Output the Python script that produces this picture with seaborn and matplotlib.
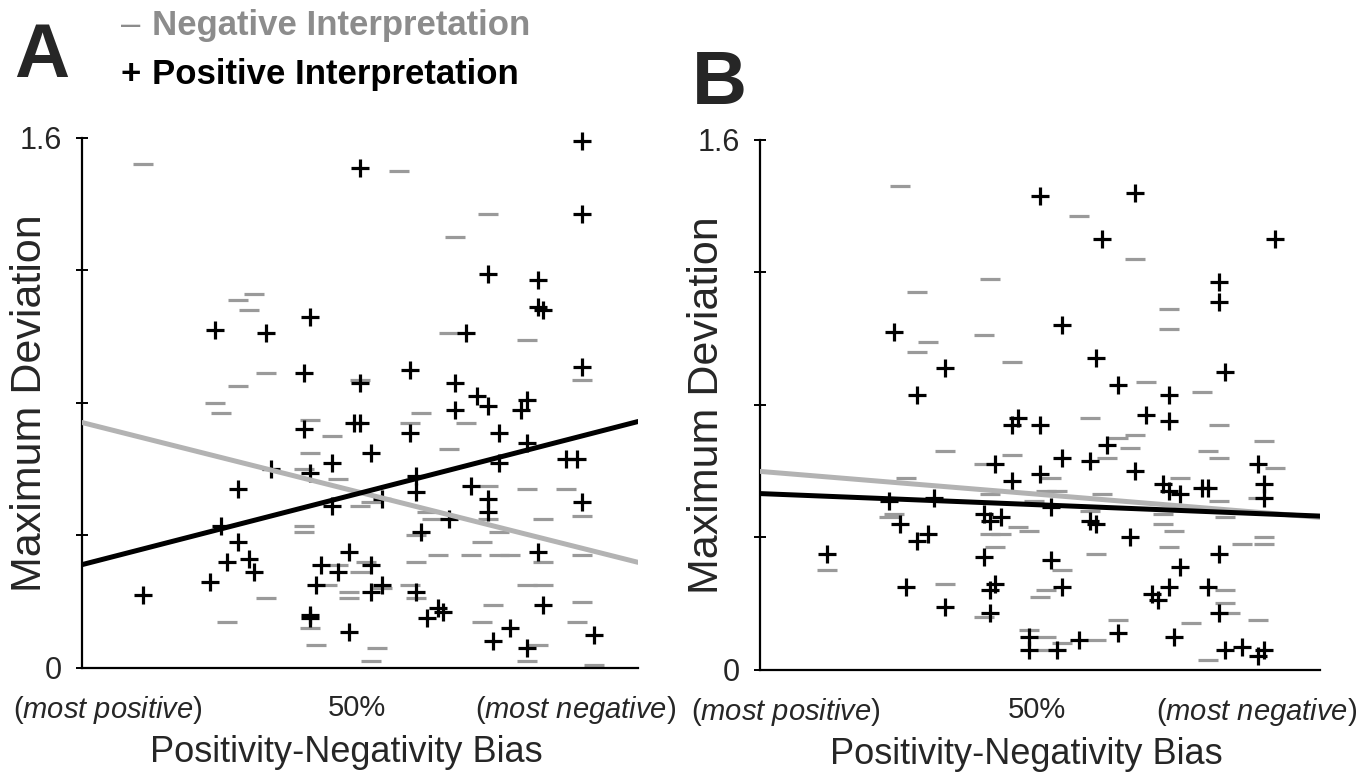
import numpy as np
import pandas as pd
import matplotlib
matplotlib.use("Agg")
import matplotlib.pyplot as plt
import seaborn as sns

# bias runs 0 (most positive) .. 1 (most negative), deviation in the plot units
# panel A
a_neg_x = [0.11, 0.31, 0.28, 0.30, 0.33, 0.28, 0.24, 0.25, 0.41, 0.50,
           0.57, 0.73, 0.67, 0.66, 0.80, 0.90, 0.61, 0.59, 0.69, 0.45,
           0.41, 0.40, 0.46, 0.50, 0.40, 0.40, 0.46, 0.50, 0.44, 0.48,
           0.48, 0.33, 0.26, 0.41, 0.42, 0.53, 0.52, 0.51, 0.66, 0.73,
           0.80, 0.87, 0.90, 0.83, 0.62, 0.63, 0.73, 0.75, 0.60, 0.72,
           0.64, 0.70, 0.75, 0.77, 0.83, 0.60, 0.90, 0.59, 0.80, 0.83,
           0.60, 0.74, 0.90, 0.72, 0.89, 0.82, 0.80, 0.92, 0.54, 0.52]
a_neg_y = [1.52, 1.13, 1.11, 1.08, 0.89, 0.85, 0.80, 0.77, 0.75, 0.87,
           1.50, 1.37, 1.30, 1.01, 0.99, 0.87, 0.77, 0.74, 0.74, 0.70,
           0.65, 0.60, 0.57, 0.49, 0.43, 0.41, 0.31, 0.29, 0.25, 0.23,
           0.21, 0.21, 0.14, 0.12, 0.07, 0.06, 0.02, 0.32, 0.66, 0.55,
           0.54, 0.54, 0.46, 0.45, 0.47, 0.45, 0.45, 0.41, 0.40, 0.38,
           0.34, 0.34, 0.34, 0.34, 0.32, 0.32, 0.34, 0.25, 0.25, 0.25,
           0.21, 0.19, 0.20, 0.14, 0.14, 0.07, 0.02, 0.01, 0.24, 0.50]
a_pos_x = [0.50, 0.24, 0.33, 0.41, 0.40, 0.50, 0.49, 0.50, 0.40, 0.90,
           0.90, 0.73, 0.82, 0.82, 0.83, 0.69, 0.90, 0.59, 0.67, 0.71,
           0.73, 0.67, 0.80, 0.79, 0.45, 0.52, 0.41, 0.34, 0.28, 0.45,
           0.25, 0.28, 0.26, 0.30, 0.31, 0.23, 0.11, 0.43, 0.46, 0.48,
           0.52, 0.42, 0.52, 0.41, 0.41, 0.48, 0.59, 0.75, 0.80, 0.60,
           0.75, 0.87, 0.89, 0.70, 0.60, 0.54, 0.66, 0.90, 0.73, 0.73,
           0.61, 0.82, 0.54, 0.60, 0.64, 0.65, 0.62, 0.83, 0.77, 0.74,
           0.80, 0.92]
a_pos_y = [1.51, 1.02, 1.01, 1.06, 0.89, 0.86, 0.74, 0.74, 0.72, 1.59,
           1.37, 1.19, 1.17, 1.09, 1.08, 1.01, 0.91, 0.90, 0.86, 0.82,
           0.79, 0.78, 0.81, 0.78, 0.62, 0.65, 0.59, 0.60, 0.54, 0.49,
           0.43, 0.38, 0.32, 0.33, 0.29, 0.26, 0.22, 0.31, 0.29, 0.35,
           0.31, 0.25, 0.23, 0.16, 0.15, 0.11, 0.71, 0.71, 0.68, 0.58,
           0.62, 0.63, 0.63, 0.55, 0.53, 0.51, 0.45, 0.50, 0.51, 0.47,
           0.41, 0.35, 0.25, 0.23, 0.18, 0.17, 0.15, 0.19, 0.12, 0.08,
           0.06, 0.10]

# panel B
b_neg_x = [0.25, 0.41, 0.28, 0.30, 0.28, 0.40, 0.45, 0.57, 0.67, 0.73,
           0.73, 0.69, 0.79, 0.59, 0.82, 0.33, 0.45, 0.26, 0.40, 0.41,
           0.49, 0.51, 0.24, 0.23, 0.46, 0.48, 0.41, 0.43, 0.42, 0.12,
           0.33, 0.50, 0.51, 0.48, 0.51, 0.40, 0.51, 0.67, 0.64, 0.66,
           0.90, 0.80, 0.82, 0.62, 0.92, 0.75, 0.52, 0.53, 0.61, 0.82,
           0.89, 0.59, 0.72, 0.83, 0.72, 0.74, 0.86, 0.90, 0.90, 0.73,
           0.60, 0.54, 0.83, 0.83, 0.89, 0.64, 0.77, 0.84, 0.54, 0.60,
           0.80]
b_neg_y = [1.46, 1.18, 1.14, 0.99, 0.96, 1.01, 0.93, 1.37, 1.24, 1.09,
           1.03, 0.87, 0.84, 0.76, 0.74, 0.66, 0.65, 0.58, 0.62, 0.53,
           0.51, 0.54, 0.47, 0.46, 0.43, 0.42, 0.41, 0.41, 0.37, 0.30,
           0.26, 0.22, 0.24, 0.12, 0.10, 0.16, 0.06, 0.71, 0.70, 0.67,
           0.69, 0.66, 0.64, 0.64, 0.61, 0.58, 0.58, 0.54, 0.53, 0.51,
           0.52, 0.48, 0.47, 0.46, 0.44, 0.42, 0.38, 0.40, 0.38, 0.37,
           0.35, 0.30, 0.24, 0.20, 0.15, 0.15, 0.14, 0.17, 0.08, 0.09,
           0.03]
b_pos_x = [0.50, 0.24, 0.33, 0.28, 0.45, 0.46, 0.50, 0.67, 0.61, 0.92,
           0.82, 0.82, 0.54, 0.60, 0.64, 0.73, 0.83, 0.69, 0.73, 0.42,
           0.45, 0.50, 0.23, 0.31, 0.40, 0.41, 0.43, 0.25, 0.28, 0.30,
           0.40, 0.12, 0.26, 0.42, 0.41, 0.33, 0.41, 0.48, 0.48, 0.62,
           0.54, 0.59, 0.67, 0.89, 0.72, 0.73, 0.75, 0.79, 0.80, 0.90,
           0.90, 0.52, 0.59, 0.60, 0.66, 0.52, 0.82, 0.75, 0.54, 0.70,
           0.73, 0.71, 0.80, 0.82, 0.53, 0.57, 0.64, 0.74, 0.83, 0.86,
           0.90, 0.89]
b_pos_y = [1.43, 1.02, 0.91, 0.83, 0.74, 0.76, 0.74, 1.44, 1.30, 1.30,
           1.17, 1.11, 1.04, 0.94, 0.86, 0.83, 0.90, 0.77, 0.75, 0.62,
           0.57, 0.59, 0.51, 0.52, 0.47, 0.45, 0.46, 0.44, 0.39, 0.41,
           0.34, 0.35, 0.25, 0.26, 0.24, 0.19, 0.17, 0.10, 0.06, 0.68,
           0.64, 0.63, 0.60, 0.62, 0.56, 0.54, 0.53, 0.55, 0.55, 0.56,
           0.52, 0.49, 0.45, 0.44, 0.40, 0.33, 0.35, 0.31, 0.25, 0.23,
           0.25, 0.21, 0.25, 0.17, 0.06, 0.09, 0.11, 0.10, 0.06, 0.07,
           0.06, 0.04]

# fitted lines, value at bias 0 and bias 1
fit_x = [0.0, 1.0]
a_neg_fit = [0.741, 0.319]
a_pos_fit = [0.312, 0.744]
b_neg_fit = [0.599, 0.460]
b_pos_fit = [0.532, 0.464]

bias_ticks = [0.047, 0.495, 0.887]
bias_labels = [r'($\mathit{most\ positive}$)', '50%', r'($\mathit{most\ negative}$)']
dev_ticks = [0, 0.4, 0.8, 1.2, 1.6]
dev_labels = ['0', '', '', '', '1.6']

sns.set_style("white")
plt.rcParams['font.family'] = ['Liberation Sans', 'DejaVu Sans']
plt.rcParams['mathtext.fontset'] = 'custom'
plt.rcParams['mathtext.rm'] = 'Liberation Sans'
plt.rcParams['mathtext.it'] = 'Liberation Sans:italic'

NEG_C = '#9a9a9a'
LINE_GRAY = '#b3b3b3'

fig = plt.figure(figsize=(13.72, 7.79), dpi=100)
axA = fig.add_axes([0.0598, 0.1425, 0.4052, 0.6804])
axB = fig.add_axes([0.5539, 0.1403, 0.4082, 0.6800])

panels = [
    (axA, a_neg_x, a_neg_y, a_pos_x, a_pos_y, a_neg_fit, a_pos_fit),
    (axB, b_neg_x, b_neg_y, b_pos_x, b_pos_y, b_neg_fit, b_pos_fit),
]

for ax, nx, ny, px, py, nfit, pfit in panels:
    neg = pd.DataFrame({'bias': nx, 'dev': ny})
    pos = pd.DataFrame({'bias': px, 'dev': py})
    sns.scatterplot(data=neg, x='bias', y='dev', marker='_', s=15 ** 2,
                    color=NEG_C, linewidth=2.3, ax=ax, clip_on=False, zorder=2)
    sns.scatterplot(data=pos, x='bias', y='dev', marker='+', s=13 ** 2,
                    color='black', linewidth=2.3, ax=ax, clip_on=False, zorder=3)
    sns.lineplot(x=fit_x, y=nfit, color=LINE_GRAY, linewidth=3.6, ax=ax, zorder=4)
    sns.lineplot(x=fit_x, y=pfit, color='black', linewidth=3.6, ax=ax, zorder=5)

    ax.set_xlim(0, 1)
    ax.set_ylim(0, 1.6)
    sns.despine(ax=ax)
    for side in ['left', 'bottom']:
        ax.spines[side].set_color('black')
        ax.spines[side].set_linewidth(1.6)
    ax.set_yticks(dev_ticks)
    ax.set_yticklabels(dev_labels)
    ax.set_xticks(bias_ticks)
    ax.set_xticklabels(bias_labels)
    ax.tick_params(axis='y', direction='inout', length=9, width=1.4,
                   color='black', labelsize=22, pad=10, left=True)
    ax.tick_params(axis='x', length=0, labelsize=21, pad=19)
    ax.set_xlabel('')
    ax.set_ylabel('Maximum Deviation', fontsize=31)
    ax.yaxis.set_label_coords(-0.058, 0.5)
    ax.text(0.475, -0.16, 'Positivity-Negativity Bias', transform=ax.transAxes,
            ha='center', va='center', fontsize=26)

fig.text(0.030, 0.926, 'A', fontsize=55, fontweight='bold', ha='center', va='center')
fig.text(0.524, 0.891, 'B', fontsize=55, fontweight='bold', ha='center', va='center')
fig.text(0.095, 0.967, '\u2013', fontsize=25, color='#8c8c8c',
         ha='center', va='center')
fig.text(0.111, 0.967, 'Negative Interpretation', fontsize=25, fontweight='bold',
         color='#8c8c8c', ha='left', va='center')
fig.text(0.095, 0.904, '+', fontsize=25, fontweight='bold', color='black',
         ha='center', va='center')
fig.text(0.111, 0.904, 'Positive Interpretation', fontsize=25, fontweight='bold',
         color='black', ha='left', va='center')

fig.savefig('out.png', dpi=100)
